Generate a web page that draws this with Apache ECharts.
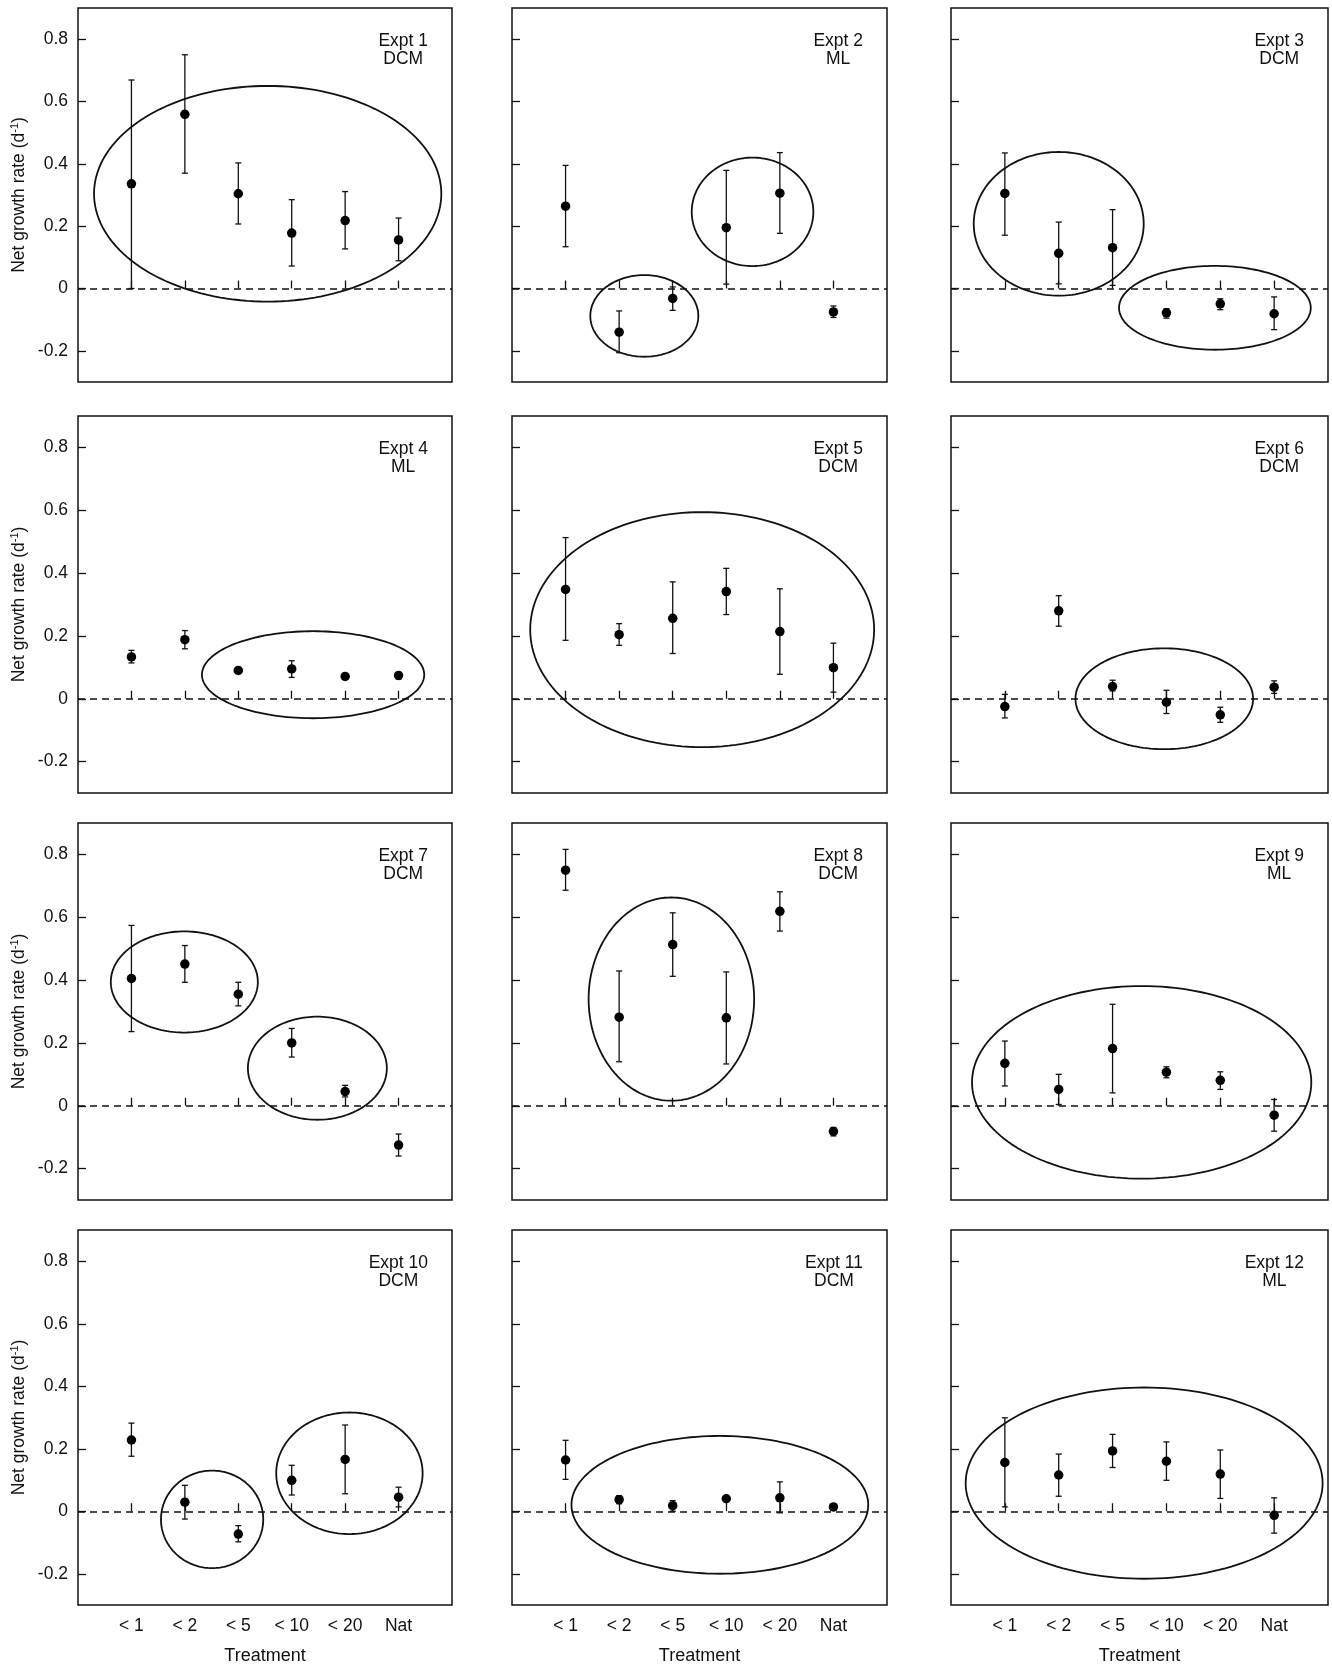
<!DOCTYPE html>
<html><head><meta charset="utf-8">
<script src="https://cdn.jsdelivr.net/npm/echarts@6/dist/echarts.min.js"></script>
<style>html,body{margin:0;padding:0;background:#fff}#chart{width:1332px;height:1670px}</style>
</head><body><div id="chart"></div>
<script>
// ---------- data ----------
const treatments = ['< 1', '< 2', '< 5', '< 10', '< 20', 'Nat'];
const xTickValues = [1, 2, 3, 4, 5, 6];
const yTicks = [-0.2, 0, 0.2, 0.4, 0.6, 0.8];
const exptNames = ['Expt 1','Expt 2','Expt 3','Expt 4','Expt 5','Expt 6','Expt 7','Expt 8','Expt 9','Expt 10','Expt 11','Expt 12'];
const layers = ['DCM','ML','DCM','ML','DCM','DCM','DCM','DCM','ML','DCM','DCM','ML'];

const means = [
  [0.336, 0.559, 0.304, 0.178, 0.218, 0.156],
  [0.264, -0.140, -0.032, 0.195, 0.306, -0.075],
  [0.305, 0.113, 0.131, -0.078, -0.049, -0.081],
  [0.133, 0.188, 0.090, 0.095, 0.071, 0.074],
  [0.348, 0.204, 0.256, 0.341, 0.214, 0.099],
  [-0.025, 0.280, 0.039, -0.011, -0.051, 0.037],
  [0.405, 0.451, 0.355, 0.200, 0.045, -0.125],
  [0.750, 0.282, 0.513, 0.280, 0.619, -0.082],
  [0.135, 0.052, 0.182, 0.107, 0.081, -0.030],
  [0.228, 0.029, -0.073, 0.099, 0.166, 0.045],
  [0.164, 0.037, 0.018, 0.040, 0.043, 0.014],
  [0.156, 0.116, 0.193, 0.160, 0.119, -0.013]
];
const errLow = [
  [0.000, 0.370, 0.207, 0.072, 0.127, 0.089],
  [0.134, -0.206, -0.070, 0.014, 0.177, -0.093],
  [0.171, 0.015, 0.010, -0.095, -0.068, -0.132],
  [0.114, 0.159, 0.090, 0.068, 0.071, 0.063],
  [0.186, 0.170, 0.144, 0.268, 0.078, 0.021],
  [-0.061, 0.231, 0.025, -0.047, -0.075, 0.017],
  [0.236, 0.393, 0.318, 0.155, 0.028, -0.160],
  [0.686, 0.140, 0.412, 0.133, 0.556, -0.096],
  [0.063, 0.004, 0.041, 0.089, 0.052, -0.081],
  [0.176, -0.025, -0.098, 0.052, 0.056, 0.014],
  [0.102, 0.024, 0.000, 0.040, -0.005, 0.004],
  [0.014, 0.048, 0.140, 0.099, 0.041, -0.070]
];
const errHigh = [
  [0.669, 0.750, 0.403, 0.285, 0.311, 0.226],
  [0.395, -0.072, 0.005, 0.379, 0.436, -0.056],
  [0.435, 0.213, 0.253, -0.065, -0.033, -0.027],
  [0.154, 0.217, 0.090, 0.121, 0.071, 0.084],
  [0.513, 0.239, 0.372, 0.415, 0.350, 0.177],
  [0.014, 0.328, 0.059, 0.027, -0.027, 0.057],
  [0.574, 0.510, 0.393, 0.246, 0.065, -0.090],
  [0.816, 0.429, 0.614, 0.426, 0.681, -0.069],
  [0.206, 0.100, 0.323, 0.124, 0.108, 0.020],
  [0.282, 0.083, -0.046, 0.147, 0.276, 0.077],
  [0.227, 0.050, 0.034, 0.040, 0.094, 0.024],
  [0.299, 0.183, 0.246, 0.222, 0.196, 0.043]
];
// grouping ellipses: [centre x, centre y, radius x, radius y] in data units
const groups = [
  [[3.55, 0.304, 3.25, 0.346]],
  [[2.47, -0.088, 1.008, 0.131], [4.49, 0.246, 1.135, 0.174]],
  [[2.0, 0.2075, 1.578, 0.2305], [4.90, -0.062, 1.78, 0.1345]],
  [[4.40, 0.0765, 2.08, 0.1385]],
  [[3.55, 0.22, 3.21, 0.374]],
  [[3.96, 0.0, 1.649, 0.1605]],
  [[1.99, 0.394, 1.376, 0.161], [4.48, 0.1195, 1.30, 0.164]],
  [[2.975, 0.3395, 1.545, 0.3235]],
  [[3.54, 0.0745, 3.15, 0.3065]],
  [[2.51, -0.026, 0.957, 0.156], [5.08, 0.1215, 1.37, 0.1945]],
  [[3.88, 0.0205, 2.77, 0.2205]],
  [[3.586, 0.09, 3.314, 0.306]]
];

// ---------- layout ----------
const FONT = '"Liberation Sans", Arial, Helvetica, sans-serif';
const INK = '#111';
const FS = 17.5;
const colLeft = [78, 512, 951], colWidth = [374, 375, 377];
const rowTop = [8, 416, 823, 1230], rowHeight = [374, 377, 377, 375];

const chart = echarts.init(document.getElementById('chart'));
const ctx = document.createElement('canvas').getContext('2d');
ctx.font = FS + 'px ' + FONT;

const grids = [], xAxes = [], yAxes = [], series = [], graphics = [];
for (let i = 0; i < 12; i++) {
  const r = Math.floor(i / 3), c = i % 3;
  grids.push({left: colLeft[c], top: rowTop[r], width: colWidth[c], height: rowHeight[r],
    show: true, borderColor: INK, borderWidth: 1.5, backgroundColor: 'transparent'});
  xAxes.push({type: 'value', gridIndex: i, min: 0, max: 7,
    axisLine: {show: false}, splitLine: {show: false},
    axisTick: {show: true, inside: true, length: 8, customValues: xTickValues, lineStyle: {color: INK, width: 1.3}},
    axisLabel: {show: r === 3, customValues: xTickValues, formatter: v => treatments[Math.round(v) - 1],
      fontSize: FS, color: INK, fontFamily: FONT, margin: 12},
    name: r === 3 ? 'Treatment' : '', nameLocation: 'middle', nameGap: 42,
    nameTextStyle: {fontSize: 18, color: INK, fontFamily: FONT}});
  yAxes.push({type: 'value', gridIndex: i, min: -0.3, max: 0.9,
    axisLine: {show: false}, splitLine: {show: false},
    axisTick: {show: true, inside: true, length: 8, customValues: yTicks, lineStyle: {color: INK, width: 1.3}},
    axisLabel: {show: c === 0, customValues: yTicks, formatter: v => Math.abs(v) < 1e-9 ? '0' : v.toFixed(1),
      fontSize: FS, color: INK, fontFamily: FONT, margin: 10},
    name: c === 0 ? 'Net growth rate (d{sup|-1})' : '', nameLocation: 'middle', nameGap: 49, nameRotate: 90,
    nameTextStyle: {fontSize: FS, color: INK, fontFamily: FONT, lineHeight: 20,
      rich: {sup: {fontSize: 11, color: INK, fontFamily: FONT, verticalAlign: 'top', lineHeight: 20}}}});

  series.push({type: 'custom', xAxisIndex: i, yAxisIndex: i, silent: true, clip: false, z: 2,
    encode: {x: 0, y: 1},
    data: groups[i],
    renderItem: (p, api) => {
      const c0 = api.coord([api.value(0), api.value(1)]);
      const s = api.size([api.value(2), api.value(3)]);
      const pts = [];
      for (let t = 0; t < 160; t++) {
        const a = t / 160 * 2 * Math.PI;
        pts.push([c0[0] + s[0] * Math.cos(a), c0[1] + s[1] * Math.sin(a)]);
      }
      return {type: 'polygon', shape: {points: pts}, style: {fill: 'none', stroke: INK, lineWidth: 1.8}};
    }});

  series.push({type: 'custom', xAxisIndex: i, yAxisIndex: i, silent: true, z: 3,
    encode: {x: 0, y: [1, 2]},
    data: means[i].map((m, k) => [k + 1, errLow[i][k], errHigh[i][k]]),
    renderItem: (p, api) => {
      const x = api.value(0), lo = api.value(1), hi = api.value(2);
      if (hi - lo < 1e-6) return null;
      const a = api.coord([x, hi]), b = api.coord([x, lo]);
      const w = 3, st = {stroke: INK, lineWidth: 1.3};
      return {type: 'group', children: [
        {type: 'line', shape: {x1: a[0], y1: a[1], x2: b[0], y2: b[1]}, style: st},
        {type: 'line', shape: {x1: a[0] - w, y1: a[1], x2: a[0] + w, y2: a[1]}, style: st},
        {type: 'line', shape: {x1: b[0] - w, y1: b[1], x2: b[0] + w, y2: b[1]}, style: st}
      ]};
    }});

  series.push({type: 'scatter', xAxisIndex: i, yAxisIndex: i, symbol: 'circle', symbolSize: 9.5, z: 4,
    itemStyle: {color: '#000', opacity: 1}, silent: true,
    data: means[i].map((m, k) => [k + 1, m]),
    markLine: {silent: true, symbol: 'none', label: {show: false}, animation: false,
      lineStyle: {type: [7, 5], color: INK, width: 1.5, opacity: 1}, data: [{yAxis: 0}]}});

  const right = colLeft[c] + colWidth[c];
  const w1 = ctx.measureText(exptNames[i]).width;
  const cx = right - 24 - w1 / 2;
  graphics.push({type: 'text', x: cx, y: rowTop[r] + 33, z: 10,
    style: {text: exptNames[i], fontSize: FS, fontFamily: FONT, fill: INK, align: 'center', verticalAlign: 'middle'}});
  graphics.push({type: 'text', x: cx, y: rowTop[r] + 51, z: 10,
    style: {text: layers[i], fontSize: FS, fontFamily: FONT, fill: INK, align: 'center', verticalAlign: 'middle'}});
}

chart.setOption({animation: false, backgroundColor: '#fff', grid: grids, xAxis: xAxes, yAxis: yAxes, series: series, graphic: graphics});
</script></body></html>
